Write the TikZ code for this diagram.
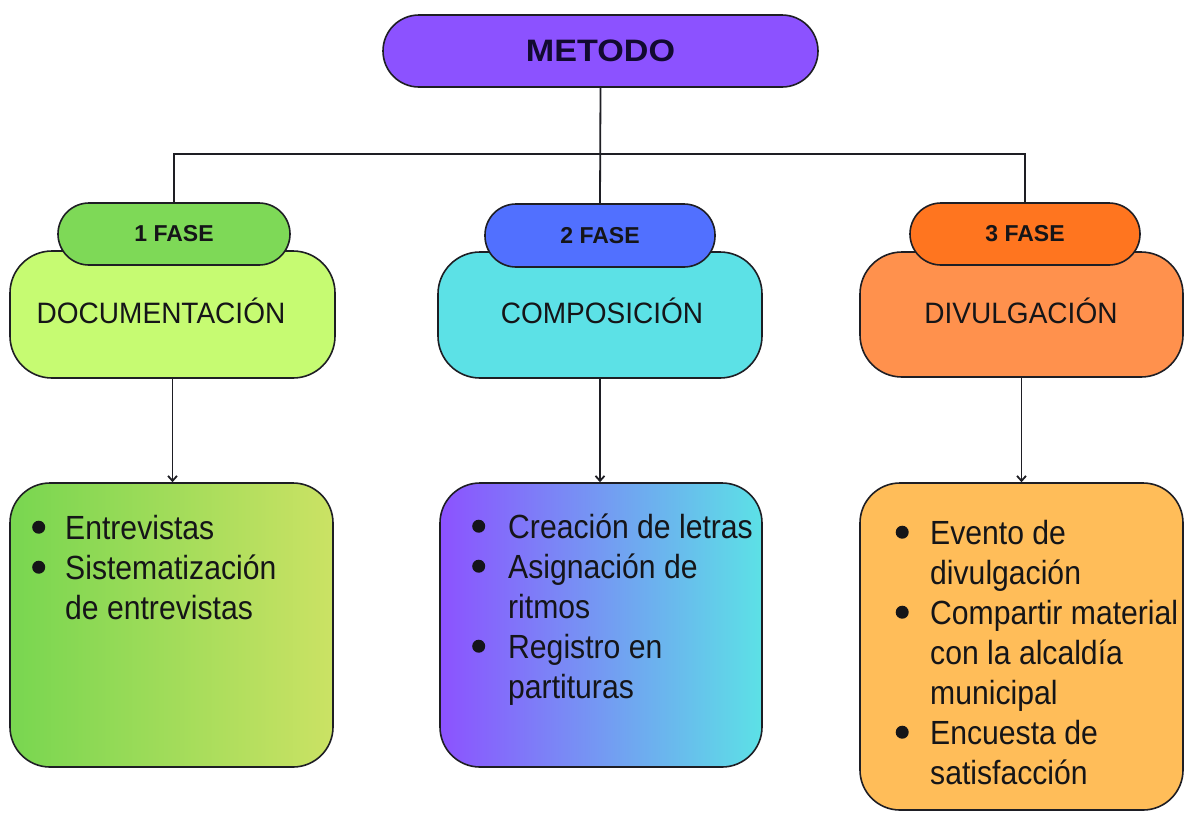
\documentclass[tikz,border=0pt]{standalone}
\usepackage{fontspec}
\setmainfont{Liberation Sans}
\newfontfamily\condfont[FakeStretch=0.9]{Liberation Sans}
\newfontfamily\headfont[FakeStretch=0.95]{Liberation Sans}
\newfontfamily\widefont[FakeStretch=1.1]{Liberation Sans}
\usetikzlibrary{arrows.meta}
\definecolor{cMet}{HTML}{8C52FF}
\definecolor{cT1}{HTML}{7ED957}
\definecolor{cH1}{HTML}{C6FB72}
\definecolor{cT2}{HTML}{5170FF}
\definecolor{cH2}{HTML}{5CE1E6}
\definecolor{cT3}{HTML}{FF751F}
\definecolor{cH3}{HTML}{FF914D}
\definecolor{cB1a}{HTML}{78D650}
\definecolor{cB1b}{HTML}{CBE264}
\definecolor{cB2a}{HTML}{8C52FF}
\definecolor{cB2b}{HTML}{5CE1E6}
\definecolor{cB3}{HTML}{FFBD59}
\definecolor{edge}{HTML}{1E1E24}
\definecolor{txtd}{HTML}{151518}
\definecolor{txtm}{HTML}{120A30}
\newcommand{\bdot}{\tikz[baseline={(0pt,-12pt)}]\fill[txtd] (0pt,0pt) circle (6.5pt);}
\newcommand{\bitem}[2][0pt]{\rule{0pt}{28pt}\makebox[36pt][l]{\hspace*{#1}\bdot}#2}
\newcommand{\bcont}[1]{\hspace*{36pt}#1}
\begin{document}
\begin{tikzpicture}[x=1pt,y=-1pt,
  pill/.style={draw=edge, line width=1.6pt, inner sep=0pt, rounded corners=31pt, text=txtd},
  hbox/.style={draw=edge, line width=1.6pt, inner sep=0pt, rounded corners=42pt},
  bbox/.style={draw=edge, line width=1.6pt, inner sep=0pt, rounded corners=40pt},
  htext/.style={anchor=base, inner sep=0pt, text=txtd, font=\headfont\fontsize{29.5}{29.5}\selectfont},
  tabtext/.style={font=\fontsize{23}{23}\selectfont\bfseries},
  btext/.style={anchor=north west, inner sep=0pt, align=left, text=txtd, font=\condfont\fontsize{33.5}{40}\selectfont},
  conn/.style={draw=edge, line width=1.8pt},
  arr/.style={draw=edge, line width=1.8pt, -{Straight Barb[length=5pt,width=9pt]}}]
\path[use as bounding box, fill=white] (0,0) rectangle (1186,815);

% top
\node[pill, rounded corners=36pt, fill=cMet, minimum width=435pt, minimum height=72pt,
      text=txtm, font=\widefont\fontsize{31}{31}\selectfont\bfseries] (met) at (600.5,51) {METODO};

% heading boxes
\node[hbox, fill=cH1, minimum width=325pt, minimum height=127pt] (h1) at (172.5,314.5) {};
\node[hbox, fill=cH2, minimum width=324pt, minimum height=126pt] (h2) at (600,315) {};
\node[hbox, fill=cH3, minimum width=323pt, minimum height=125pt] (h3) at (1021.5,314.5) {};
\node[htext] (h1t) at (161,323) {DOCUMENTACIÓN};
\node[htext] (h2t) at (602,323) {COMPOSICIÓN};
\node[htext] (h3t) at (1021,323) {DIVULGACIÓN};

% tabs
\node[pill, tabtext, fill=cT1, minimum width=232pt, minimum height=62pt] (t1) at (174,234) {1 FASE};
\node[pill, tabtext, fill=cT2, minimum width=230pt, minimum height=63pt] (t2) at (600,235.5) {2 FASE};
\node[pill, tabtext, fill=cT3, minimum width=230pt, minimum height=62pt] (t3) at (1025,234) {3 FASE};

% connectors
\draw[conn] (met.south) -- (t2.north);
\draw[conn] (t1.north) -- ++(0,-48) -| (t3.north);

% bottom boxes
\node[bbox, left color=cB1a, right color=cB1b, minimum width=323pt, minimum height=284pt] (b1) at (171.5,625) {};
\node[bbox, left color=cB2a, right color=cB2b, minimum width=322pt, minimum height=284pt] (b2) at (601,625) {};
\node[bbox, fill=cB3, minimum width=323pt, minimum height=327pt] (b3) at (1021.5,646.5) {};

\draw[arr] (h1.south) -- (h1.south |- b1.north);
\draw[arr] (h2.south) -- (h2.south |- b2.north);
\draw[arr] (h3.south) -- (h3.south |- b3.north);

% bullet texts
\node[btext] (l1) at (29,511) {\bitem[3pt]{Entrevistas}\\ \bitem[3pt]{Sistematización}\\ \bcont{de entrevistas}};
\node[btext] (m1) at (472,510) {\bitem{Creación de letras}\\ \bitem{Asignación de}\\ \bcont{ritmos}\\ \bitem{Registro en}\\ \bcont{partituras}};
\node[btext] (r1) at (894,516) {\bitem[1.5pt]{Evento de}\\ \bcont{divulgación}\\ \bitem[1.5pt]{Compartir material}\\ \bcont{con la alcaldía}\\ \bcont{municipal}\\ \bitem[1.5pt]{Encuesta de}\\ \bcont{satisfacción}};
\end{tikzpicture}
\end{document}
